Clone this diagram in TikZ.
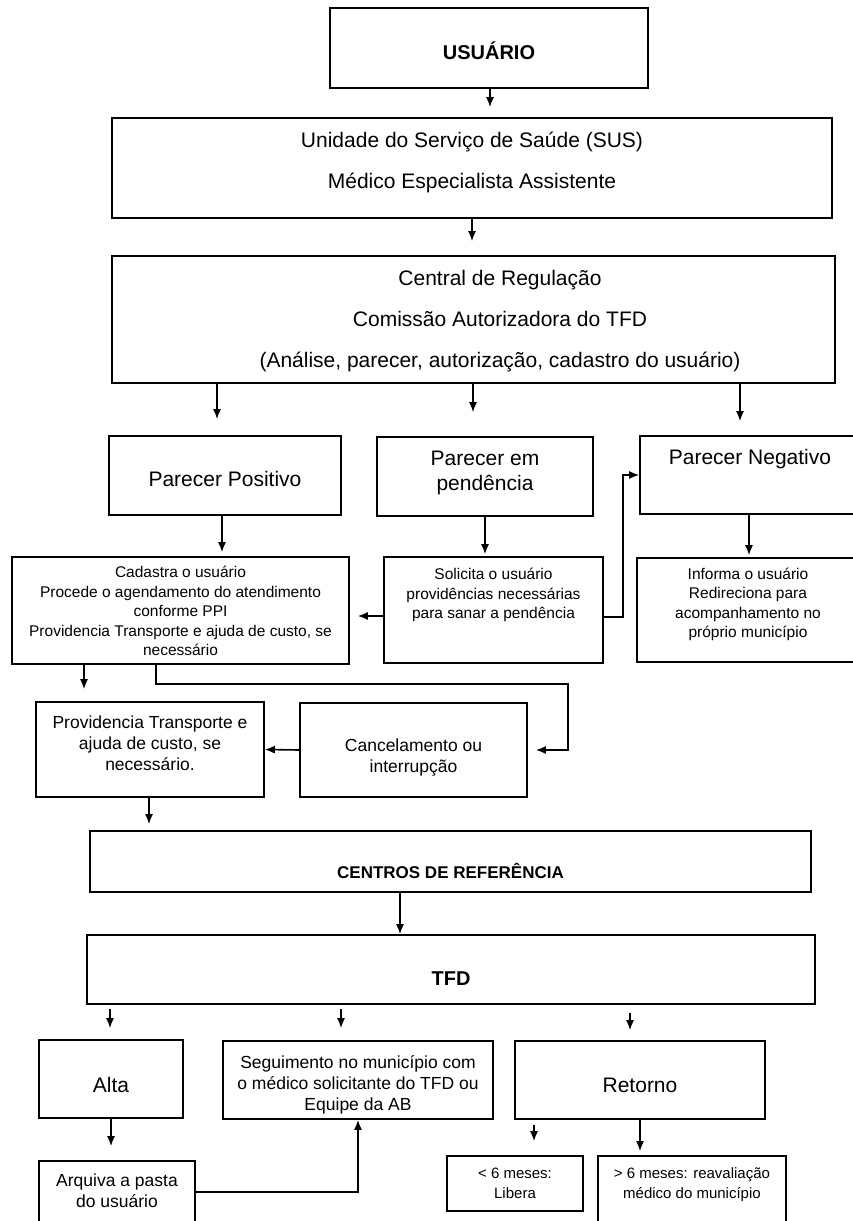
\documentclass[tikz,border=0pt]{standalone}
\usepackage{fontspec}
\setmainfont{Liberation Sans}
\usepackage{tikz}
\usetikzlibrary{calc}
\usetikzlibrary{arrows.meta}

\begin{document}
\begin{tikzpicture}[x=1pt,y=-1pt]
    \tikzstyle{every node}=[draw=black,line width=1.6pt,inner sep=0pt,align=center]
    \tikzstyle{every path}=[line width=1.6pt]
    \tikzstyle{arr}=[-{Latex[length=10pt,width=8pt]}]
    \tikzstyle{hdtxt}=[font=\bfseries\fontsize{20}{24}\selectfont]
    \tikzstyle{cbtxt}=[font=\bfseries\fontsize{17}{21}\selectfont]
    \tikzstyle{bigtxt}=[font=\fontsize{21}{41}\selectfont]
    \tikzstyle{midtxt}=[font=\fontsize{21}{25}\selectfont]
    \tikzstyle{smltxt}=[font=\fontsize{17.5}{21}\selectfont]
    \tikzstyle{tnytxt}=[font=\fontsize{15.5}{19.5}\selectfont]
    \tikzstyle{sixtxt}=[font=\fontsize{15}{20}\selectfont]
    % lift = distance of the last baseline above the box centre
    \tikzset{lift/.style={/utils/exec={\pgfmathsetlengthmacro\liftH{max(0pt,-2*(#1))}%
                                       \pgfmathsetlengthmacro\liftD{max(0pt,2*(#1))}},
                          text height=\liftH,text depth=\liftD}}

    \useasboundingbox (0,0) rectangle (853,1221);

    \node[hdtxt,minimum width=318,minimum height=80,lift=-11pt] (usuario) at (489,48) {USUÁRIO} ;
    \node[bigtxt,minimum width=720,minimum height=100,lift=-20.5pt] (sus) at (472,168)
        {Unidade do Serviço de Saúde (SUS)\\Médico Especialista Assistente} ;
    \node[bigtxt,minimum width=723,minimum height=127,lift=-48pt] (central) at (473.5,319.5)
        {\hspace*{53pt}Central de Regulação\\\hspace*{53pt}Comissão Autorizadora do TFD\\
         \hspace*{53pt}(Análise, parecer, autorização, cadastro do usuário)} ;

    \node[midtxt,minimum width=232,minimum height=79,lift=-11pt] (pos) at (225,475.5) {Parecer Positivo} ;
    \node[midtxt,minimum width=216,minimum height=79,lift=-14pt] (pend) at (485,476.5) {Parecer em\\pendência} ;
    \node[midtxt,minimum width=220,minimum height=78,lift=10.5pt] (neg) at (750,475) {Parecer Negativo} ;

    \node[tnytxt,minimum width=337,minimum height=107,lift=-45pt] (cad) at (180.5,610.5)
        {Cadastra o usuário\\Procede o agendamento do atendimento\\conforme PPI\\
         Providencia Transporte e ajuda de custo, se\\necessário} ;
    \node[tnytxt,minimum width=219,minimum height=106,lift=-8.6pt] (sol) at (493.5,610)
        {Solicita o usuário\\providências necessárias\\para sanar a pendência} ;
    \node[tnytxt,minimum width=222,minimum height=104,lift=-27.6pt] (inf) at (748,610)
        {Informa o usuário\\Redireciona para\\acompanhamento no\\próprio município} ;

    \node[smltxt,minimum width=228,minimum height=95,lift=-20.8pt] (prov) at (150,749.5)
        {Providencia Transporte e\\ajuda de custo, se\\necessário.} ;
    \node[smltxt,minimum width=227,minimum height=94,lift=-22.3pt] (canc) at (413.5,750)
        {Cancelamento ou\\interrupção} ;

    \node[cbtxt,minimum width=721,minimum height=61,lift=-16.6pt] (centros) at (450.5,861.5) {CENTROS DE REFERÊNCIA} ;
    \node[hdtxt,minimum width=728,minimum height=69,lift=-15.7pt] (tfd) at (451,969.5) {TFD} ;

    \node[midtxt,minimum width=144,minimum height=78,lift=-13.5pt] (alta) at (111,1079) {Alta} ;
    \node[smltxt,minimum width=270,minimum height=78,lift=-30.3pt] (seg) at (358,1080)
        {Seguimento no município com\\o médico solicitante do TFD ou\\Equipe da AB} ;
    \node[midtxt,minimum width=250,minimum height=78,lift=-12.5pt] (ret) at (640,1080) {Retorno} ;

    \node[smltxt,minimum width=156,minimum height=71,lift=-10.8pt] (arq) at (117,1196.5) {Arquiva a pasta\\do usuário} ;
    \node[sixtxt,minimum width=136,minimum height=55,lift=-14.9pt] (men) at (515,1183.5) {< 6 meses:\\Libera} ;
    \node[sixtxt,minimum width=188,minimum height=79,lift=-2.9pt] (mai) at (692,1195.5)
        {> 6 meses: reavaliação\\médico do município} ;

    % straight drops: from, to, xshift at target, shorten start, shorten end
    \newcommand{\dropline}[5]{%
      \draw[arr,shorten <=#4,shorten >=#5] let \p1 = ([xshift=#3]#2.north),
                          \p2 = (#1.south) in
                      (\x1,\y2) -- (\x1,\y1) ;}

    \dropline{usuario}{sus}{18pt}{0pt}{10pt}
    \dropline{sus}{central}{-1.5pt}{0pt}{14pt}
    \dropline{central}{pos}{-8pt}{0pt}{16pt}
    \dropline{central}{pend}{-12pt}{0pt}{24pt}
    \dropline{central}{neg}{-10pt}{0pt}{14pt}
    \dropline{pos}{cad}{41.5pt}{0pt}{4pt}
    \dropline{pend}{sol}{-8.5pt}{0pt}{2pt}
    \dropline{neg}{inf}{1pt}{0pt}{2pt}
    \dropline{cad}{prov}{-66pt}{0pt}{12pt}
    \dropline{prov}{centros}{-301.5pt}{0pt}{6pt}
    \dropline{centros}{tfd}{-51pt}{0pt}{0pt}
    \dropline{tfd}{alta}{-1pt}{4pt}{11pt}
    \dropline{tfd}{seg}{-17pt}{4pt}{12pt}
    \dropline{tfd}{ret}{-10pt}{8pt}{10pt}
    \dropline{alta}{arq}{-6pt}{0pt}{14pt}
    \dropline{ret}{men}{19pt}{5pt}{14pt}
    \dropline{ret}{mai}{-52pt}{0pt}{4pt}

    \draw[arr,shorten >=8pt] let \p1 = ([yshift=-6pt]sol.west),
                                 \p2 = (cad.east) in
                             (\p1) -- (\x2,\y1) ;
    \draw[arr] ([yshift=-7pt]sol.east) -- ++(19,0) |- (neg.west) ;
    \draw[arr,shorten >=8pt] ([xshift=-24.5pt]cad.south) -- ++(0,19) -- ++(412,0) |- (canc.east) ;
    \draw[arr] (canc.west) -- (prov.east) ;
    \draw[arr] ([yshift=4.5pt]arq.east) -| (seg.south) ;

  \end{tikzpicture}
\end{document}
